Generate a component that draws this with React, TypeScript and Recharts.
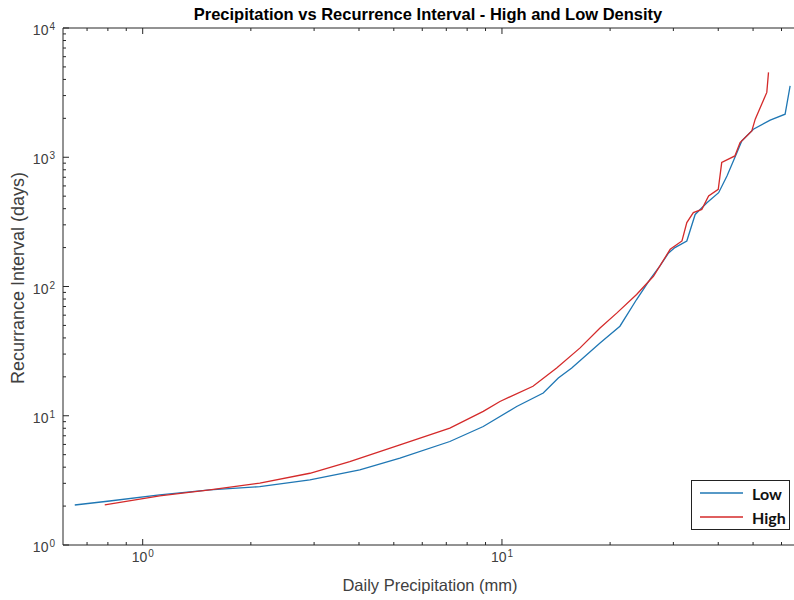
import React from 'react';
import { LineChart, Line, XAxis, YAxis, Legend } from 'recharts';

const chartTitle = 'Precipitation vs Recurrence Interval - High and Low Density';
const xLabel = 'Daily Precipitation (mm)';
const yLabel = 'Recurrance Interval (days)';
const seriesNames = ['Low', 'High'];

const lowPrecip = [0.647, 0.809, 1.115, 1.537, 2.118, 2.92, 4.02, 5.2, 7.16, 8.87, 10.99, 13.03, 14.35, 15.64, 18.75, 21.3, 23.7, 25.8, 27.5, 29.1, 30.3, 32.7, 34.5, 37.2, 40.1, 42.3, 45.1, 46.5, 50.1, 55.8, 61.4, 63.4];
const lowInterval = [2.04, 2.19, 2.44, 2.67, 2.83, 3.19, 3.81, 4.7, 6.32, 8.26, 11.8, 15.0, 19.6, 23.4, 36.6, 49.3, 79.3, 113, 144, 182, 200, 225, 361, 445, 532, 716, 1087, 1337, 1648, 1936, 2154, 3571];

const highPrecip = [0.784, 1.115, 1.537, 2.118, 2.92, 3.77, 5.2, 7.16, 8.87, 9.87, 12.2, 14.2, 16.5, 18.75, 20.9, 23.7, 26.4, 29.4, 31.7, 32.7, 34.1, 36.0, 37.6, 40.0, 40.9, 44.5, 46.0, 49.6, 50.7, 54.6, 55.2];
const highInterval = [2.04, 2.4, 2.67, 3.01, 3.59, 4.42, 5.96, 8.03, 10.8, 12.9, 16.9, 23.4, 33.5, 47.8, 62.5, 86.7, 120, 194, 225, 312, 373, 395, 501, 565, 910, 1024, 1300, 1600, 1971, 3174, 4536];

const xTicks = [0.7, 0.8, 0.9, 1, 2, 3, 4, 5, 6, 7, 8, 9, 10, 20, 30, 40, 50, 60];
const yTicks = [1, 2, 3, 4, 5, 6, 7, 8, 9, 10, 20, 30, 40, 50, 60, 70, 80, 90, 100, 200, 300, 400, 500, 600, 700, 800, 900, 1000, 2000, 3000, 4000, 5000, 6000, 7000, 8000, 9000, 10000];

const lowData = lowPrecip.map((x, i) => ({ x, y: lowInterval[i] }));
const highData = highPrecip.map((x, i) => ({ x, y: highInterval[i] }));

const AXIS = '#262626';
const TXT = '#404040';
const FONT = '"Liberation Sans", Arial, sans-serif';

const isMajor = (v: number) => Math.abs(Math.log10(v) - Math.round(Math.log10(v))) < 1e-6;

const BottomTick = (props: any) => {
  const { x, y, payload } = props;
  const v = payload.value;
  const major = isMajor(v);
  const len = major ? 6 : 3;
  return (
    <g>
      <line x1={x} y1={y} x2={x} y2={y - len} stroke={AXIS} strokeWidth={1} />
      {major && (
        <text x={x} y={y + 17} textAnchor="middle" fontSize={14} fill={TXT} fontFamily={FONT}>
          <tspan>10</tspan>
          <tspan dx={1} dy={-5} fontSize={10}>{Math.round(Math.log10(v))}</tspan>
        </text>
      )}
    </g>
  );
};

const TopTick = (props: any) => {
  const { x, y, payload } = props;
  const len = isMajor(payload.value) ? 6 : 3;
  return <line x1={x} y1={y} x2={x} y2={y + len} stroke={AXIS} strokeWidth={1} />;
};

const LeftTick = (props: any) => {
  const { x, y, payload } = props;
  const v = payload.value;
  const major = isMajor(v);
  const len = major ? 6 : 3;
  return (
    <g>
      <line x1={x} y1={y} x2={x + len} y2={y} stroke={AXIS} strokeWidth={1} />
      {major && (
        <text x={x - 8} y={y + 7} textAnchor="end" fontSize={14} fill={TXT} fontFamily={FONT}>
          <tspan>10</tspan>
          <tspan dx={1} dy={-5} fontSize={10}>{Math.round(Math.log10(v))}</tspan>
        </text>
      )}
    </g>
  );
};

const renderLegend = (props: any) => {
  const payload = [...(props.payload || [])].sort(
    (a: any, b: any) => seriesNames.indexOf(a.value) - seriesNames.indexOf(b.value)
  );
  return (
    <div
      style={{
        width: 99,
        height: 50,
        boxSizing: 'border-box',
        border: '1.5px solid #222',
        background: '#fff',
      }}
    >
      {payload.map((p: any) => (
        <div key={p.value} style={{ height: 24, display: 'flex', alignItems: 'center' }}>
          <svg width={60} height={24} style={{ display: 'block' }}>
            <line x1={8} y1={12} x2={51} y2={12} stroke={p.color} strokeWidth={1.3} />
          </svg>
          <span style={{ fontFamily: 'Lato, "Open Sans", sans-serif', fontWeight: 700, fontSize: 16, color: '#111' }}>
            {p.value}
          </span>
        </div>
      ))}
    </div>
  );
};

export default function App() {
  return (
    <div style={{ position: 'absolute', left: 0, top: 0, width: 794, height: 600 }}>
      <LineChart width={794} height={600} margin={{ top: 27, right: 0, bottom: 5, left: 13 }}>
        <XAxis
          xAxisId="bottom"
          dataKey="x"
          type="number"
          scale="log"
          domain={[0.6, 65]}
          allowDataOverflow
          ticks={xTicks}
          interval={0}
          height={50}
          tickSize={0}
          tickMargin={0}
          tickLine={false}
          tick={<BottomTick />}
          axisLine={{ stroke: AXIS, strokeWidth: 1 }}
        />
        <XAxis
          xAxisId="top"
          orientation="top"
          dataKey="x"
          type="number"
          scale="log"
          domain={[0.6, 65]}
          allowDataOverflow
          ticks={xTicks}
          interval={0}
          height={1}
          tickSize={0}
          tickMargin={0}
          tickLine={false}
          tick={<TopTick />}
          axisLine={{ stroke: AXIS, strokeWidth: 1 }}
        />
        <YAxis
          type="number"
          scale="log"
          domain={[1, 10000]}
          allowDataOverflow
          ticks={yTicks}
          interval={0}
          width={50}
          tickSize={0}
          tickMargin={0}
          tickLine={false}
          tick={<LeftTick />}
          axisLine={{ stroke: AXIS, strokeWidth: 1 }}
        />
        <Legend
          layout="vertical"
          align="center"
          verticalAlign="middle"
          content={renderLegend}
          wrapperStyle={{ left: 691, top: 480, width: 99, height: 50 }}
        />
        <Line
          xAxisId="bottom"
          data={lowData}
          dataKey="y"
          name={seriesNames[0]}
          stroke="#1f77b4"
          strokeWidth={1.3}
          dot={false}
          isAnimationActive={false}
        />
        <Line
          xAxisId="bottom"
          data={highData}
          dataKey="y"
          name={seriesNames[1]}
          stroke="#d42a2a"
          strokeWidth={1.3}
          dot={false}
          isAnimationActive={false}
        />
        <text x={428} y={19.5} textAnchor="middle" fontSize={16.5} fontWeight={700} fill="#000" fontFamily={FONT}>
          {chartTitle}
        </text>
        <text x={430} y={591} textAnchor="middle" fontSize={16.5} fill={TXT} fontFamily={FONT}>
          {xLabel}
        </text>
        <text
          x={24}
          y={278}
          textAnchor="middle"
          fontSize={18}
          fill={TXT}
          fontFamily={FONT}
          transform="rotate(-90 24 278)"
        >
          {yLabel}
        </text>
      </LineChart>
    </div>
  );
}
